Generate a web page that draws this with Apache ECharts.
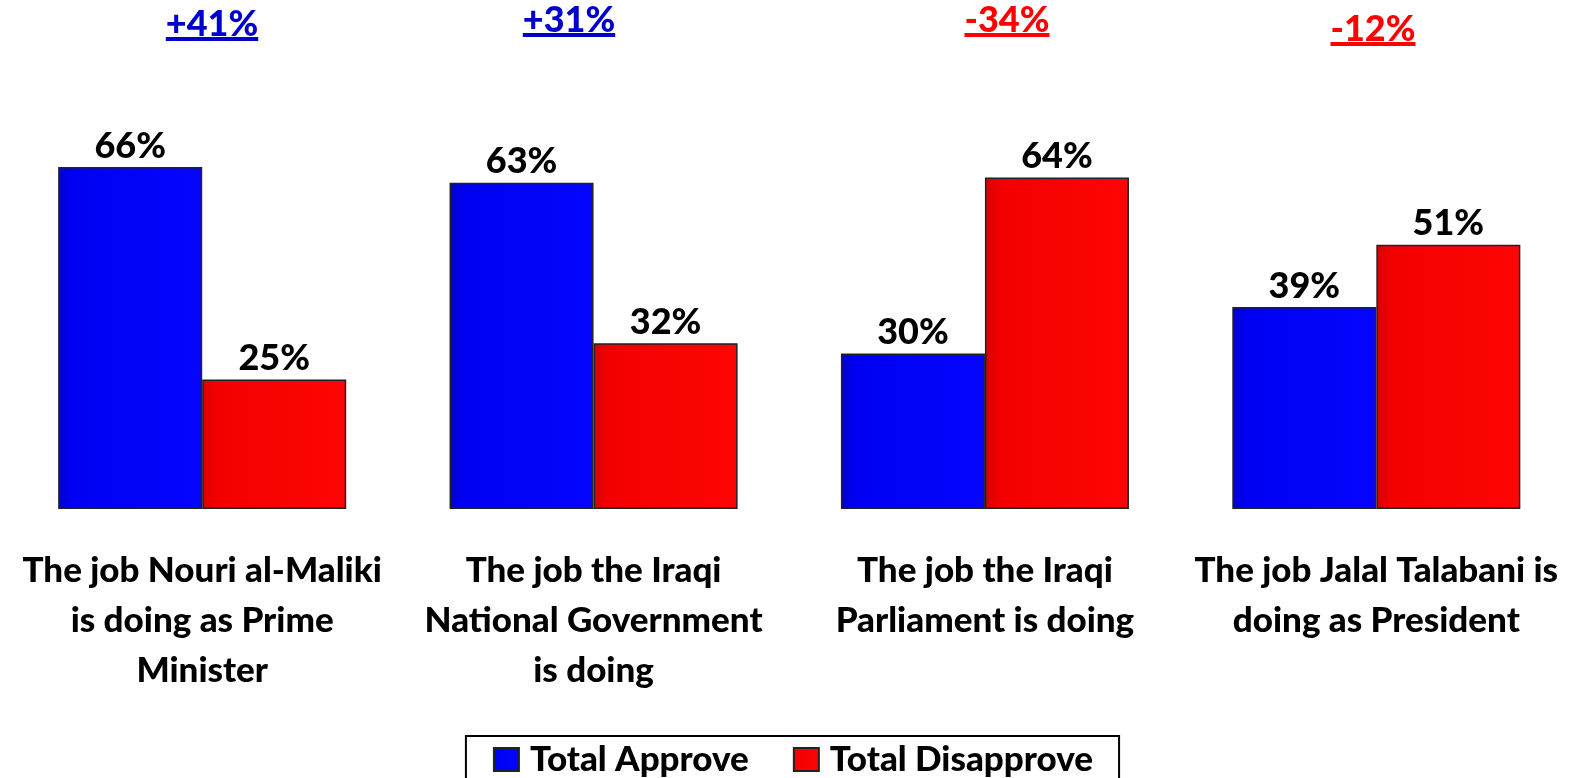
<!DOCTYPE html>
<html>
<head>
<meta charset="utf-8">
<script src="https://cdn.jsdelivr.net/npm/echarts@6/dist/echarts.min.js"></script>
<style>
html,body{margin:0;padding:0;background:#fff;}
#chart{width:1586px;height:778px;}
</style>
</head>
<body>
<div id="chart"></div>
<script>
// ---- data ----
var categories = [
  'The job Nouri al-Maliki\nis doing as Prime\nMinister',
  'The job the Iraqi\nNational Government\nis doing',
  'The job the Iraqi\nParliament is doing',
  'The job Jalal Talabani is\ndoing as President'
];
var seriesNames = ['Total Approve', 'Total Disapprove'];
var approve = [66, 63, 30, 39];
var disapprove = [25, 32, 64, 51];
var netLabels = ['+41%', '+31%', '-34%', '-12%'];

// ---- layout / style ----
var FONT = 'Lato, "Open Sans", sans-serif';
var WEIGHT = 900;
var netPos = [[212, 34], [569, 30], [1007, 30], [1373, 39]]; // center x, baseline y
var netFontSize = 36;

var chart = echarts.init(document.getElementById('chart'), null, {renderer: 'canvas'});

function measure(text, size) {
  var c = document.createElement('canvas').getContext('2d');
  c.font = WEIGHT + ' ' + size + 'px ' + FONT;
  return c.measureText(text).width;
}

var graphics = [];
netLabels.forEach(function (t, i) {
  var color = t.charAt(0) === '+' ? '#0000CC' : '#FF0000';
  var w = measure(t, netFontSize);
  var cx = netPos[i][0], by = netPos[i][1];
  graphics.push({
    type: 'text',
    left: cx - w / 2,
    top: by - netFontSize * 0.78,
    style: {text: t, fill: color, font: WEIGHT + ' ' + netFontSize + 'px ' + FONT}
  });
  graphics.push({
    type: 'rect',
    shape: {x: cx - w / 2, y: by + 3, width: w, height: 4},
    style: {fill: color}
  });
});

var blueFill = new echarts.graphic.LinearGradient(0, 0, 1, 0, [
  {offset: 0, color: '#0000d0'}, {offset: 0.1, color: '#0000f2'}, {offset: 1, color: '#0505ff'}
]);
var redFill = new echarts.graphic.LinearGradient(0, 0, 1, 0, [
  {offset: 0, color: '#d80000'}, {offset: 0.1, color: '#f20000'}, {offset: 1, color: '#ff0505'}
]);

var labelStyle = {
  show: true, position: 'top', distance: 3,
  formatter: '{c}%', color: '#000',
  fontFamily: FONT, fontWeight: WEIGHT, fontSize: 36
};

chart.setOption({
  backgroundColor: '#fff',
  animation: false,
  grid: {left: 6.5, right: 14, top: 94.6, bottom: 269},
  xAxis: {
    type: 'category',
    data: categories,
    axisLine: {show: false},
    axisTick: {show: false},
    axisLabel: {
      interval: 0, margin: 37,
      color: '#000', fontFamily: FONT, fontWeight: WEIGHT, fontSize: 35, lineHeight: 50
    }
  },
  yAxis: {type: 'value', min: 0, max: 80, show: false, splitLine: {show: false}},
  legend: {
    data: seriesNames,
    icon: 'rect',
    left: 'center', top: 736,
    borderColor: '#000', borderWidth: 2,
    padding: [6, 26, 20, 27],
    itemWidth: 25, itemHeight: 23, itemGap: 44,
    textStyle: {color: '#000', fontFamily: FONT, fontWeight: WEIGHT, fontSize: 35, padding: [0, 0, 0, 6]}
  },
  series: [
    {
      name: seriesNames[0], type: 'bar', data: approve,
      barGap: '0%', barCategoryGap: '26.4%',
      itemStyle: {color: blueFill, borderColor: '#222', borderWidth: 1.5},
      label: labelStyle
    },
    {
      name: seriesNames[1], type: 'bar', data: disapprove,
      itemStyle: {color: redFill, borderColor: '#222', borderWidth: 1.5},
      label: labelStyle
    }
  ],
  graphic: graphics
});
</script>
</body>
</html>
